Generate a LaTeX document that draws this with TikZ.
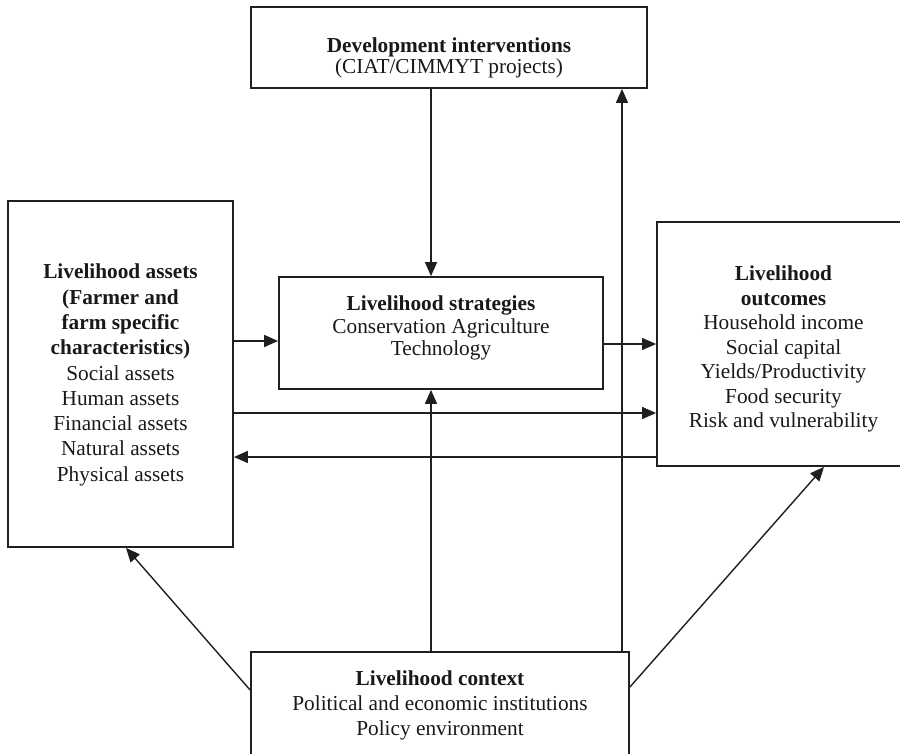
\documentclass[tikz,border=0pt]{standalone}
\usepackage{fontspec}
\setmainfont{Liberation Serif}
\usetikzlibrary{arrows.meta}
\begin{document}
\begin{tikzpicture}[x=1pt,y=-1pt,
  box/.style={draw=black!88, line width=1.8pt, rectangle, inner sep=0pt},
  txt/.style={inner sep=0pt, align=center, font=\fontsize{21.3}{25}\selectfont, text=black!90},
  arr/.style={draw=black!88, line width=1.4pt, -{Triangle[length=14pt,width=12pt]}}]
\clip (0,0) rectangle (900,753);
\fill[white] (0,0) rectangle (900,753);
% boxes
\node[box, minimum width=396pt, minimum height=81pt] (dev) at (449,47.5) {};
\node[box, minimum width=225pt, minimum height=346pt] (assets) at (120.5,374) {};
\node[box, minimum width=324pt, minimum height=112pt] (strat) at (441,333) {};
\node[box, minimum width=253pt, minimum height=244pt] (outc) at (783.5,344) {};
\node[box, minimum width=378pt, minimum height=110pt] (ctx) at (440,707) {};
% texts
\node[txt, font=\fontsize{21.3}{21}\selectfont] (devt) at ([yshift=-10.5pt]dev.center)
  {\textbf{Development interventions}\\(CIAT/CIMMYT projects)};
\node[txt, font=\fontsize{21.3}{25.3}\selectfont] (assetst) at ([yshift=-1pt]assets.center)
  {\textbf{Livelihood assets}\\\textbf{(Farmer and}\\\textbf{farm specific}\\\textbf{characteristics)}\\Social assets\\Human assets\\Financial assets\\Natural assets\\Physical assets};
\node[txt, font=\fontsize{21.3}{22.5}\selectfont] (stratt) at ([yshift=5pt]strat.center)
  {\textbf{Livelihood strategies}\\Conservation Agriculture\\Technology};
\node[txt, font=\fontsize{21.3}{24.5}\selectfont] (outct) at ([yshift=-5pt]outc.center)
  {\textbf{Livelihood}\\\textbf{outcomes}\\Household income\\Social capital\\Yields/Productivity\\Food security\\Risk and vulnerability};
\node[txt] (ctxt) at (440,705)
  {\textbf{Livelihood context}\\Political and economic institutions\\Policy environment};
% reference coordinates
\coordinate (xa) at (431,0);
\coordinate (xb) at (622,0);
\coordinate (ya) at (0,341);
\coordinate (yb) at (0,344);
\coordinate (yc) at (0,413);
\coordinate (yd) at (0,457);
\coordinate (ye) at (0,690);
\coordinate (xe) at (126,0);
\coordinate (yf) at (0,687);
\coordinate (xf) at (824,0);
% connectors
\draw[arr] (dev.south -| xa) -- (strat.north -| xa);
\draw[arr] (ctx.north -| xa) -- (strat.south -| xa);
\draw[arr] (ctx.north -| xb) -- (dev.south -| xb);
\draw[arr] (assets.east |- ya) -- (strat.west |- ya);
\draw[arr] (strat.east |- yb) -- (outc.west |- yb);
\draw[arr] (assets.east |- yc) -- (outc.west |- yc);
\draw[arr] (outc.west |- yd) -- (assets.east |- yd);
\draw[arr] (ctx.west |- ye) -- (assets.south -| xe);
\draw[arr] (ctx.east |- yf) -- (outc.south -| xf);
\end{tikzpicture}
\end{document}
